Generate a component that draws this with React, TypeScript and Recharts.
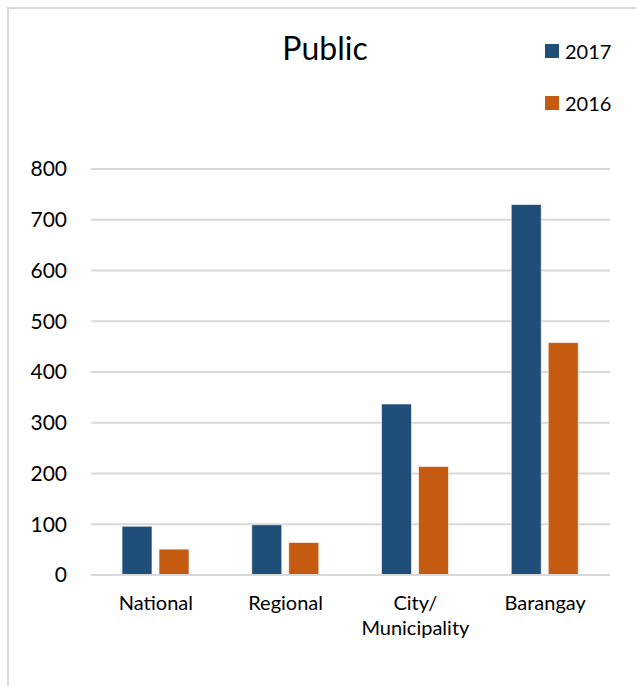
import { BarChart, Bar, XAxis, YAxis, CartesianGrid } from 'recharts';

const categories = ['National', 'Regional', 'City/\nMunicipality', 'Barangay'];
const values2017 = [96, 99, 337, 730];
const values2016 = [51, 64, 214, 458];
const yTicks = [0, 100, 200, 300, 400, 500, 600, 700, 800];

const SERIES = [
  { key: 'y2017', name: '2017', color: '#1F4E79' },
  { key: 'y2016', name: '2016', color: '#C55A11' },
];

const FONT = 'Lato, "Open Sans", sans-serif';

const data = categories.map((name, i) => ({
  name,
  y2017: values2017[i],
  y2016: values2016[i],
}));

const CategoryTick = (props: any) => {
  const { x, y, payload } = props;
  const lines = String(payload.value).split('\n');
  return (
    <text x={x} y={y + 27} textAnchor="middle" fill="#000" fontSize={20} fontFamily={FONT}>
      {lines.map((line, i) => (
        <tspan key={i} x={x} dy={i === 0 ? 0 : 25}>
          {line}
        </tspan>
      ))}
    </text>
  );
};

const LegendBox = () => (
  <div
    style={{
      position: 'absolute',
      left: 545,
      top: 25,
      fontFamily: FONT,
      fontSize: 20,
      color: '#000',
    }}
  >
    {SERIES.map((s) => (
      <div key={s.key} style={{ display: 'flex', alignItems: 'center', height: 52 }}>
        <span style={{ width: 14, height: 14, background: s.color, marginRight: 6 }} />
        {s.name}
      </div>
    ))}
  </div>
);

const App = () => {
  return (
    <div style={{ position: 'absolute', left: 0, top: 0, width: 636, height: 686, background: '#fff', overflow: 'hidden' }}>
      <div
        style={{
          position: 'absolute',
          left: 7,
          top: 7,
          width: 640,
          height: 700,
          border: '2px solid #d9d9d9',
          boxSizing: 'border-box',
        }}
      />
      <div
        style={{
          position: 'absolute',
          left: 225,
          top: 28,
          width: 200,
          textAlign: 'center',
          fontFamily: FONT,
          fontSize: 32,
          color: '#000',
        }}
      >
        Public
      </div>
      <LegendBox />
      <BarChart
        width={636}
        height={686}
        data={data}
        margin={{ top: 169, right: 26, left: 0, bottom: 81 }}
        barGap={7}
        barSize={30}
        style={{ position: 'absolute', left: 0, top: 0 }}
      >
        <CartesianGrid vertical={false} stroke="#d9d9d9" strokeWidth={2} />
        <XAxis
          dataKey="name"
          height={30}
          tick={<CategoryTick />}
          tickLine={false}
          axisLine={{ stroke: '#d9d9d9', strokeWidth: 2 }}
          interval={0}
        />
        <YAxis
          domain={[0, 800]}
          ticks={yTicks}
          width={91}
          tickLine={false}
          axisLine={false}
          tickSize={0}
          tickMargin={24}
          tick={{ fill: '#000', fontSize: 21, fontFamily: FONT }}
        />
        {SERIES.map((s) => (
          <Bar
            key={s.key}
            dataKey={s.key}
            name={s.name}
            fill={s.color}
            stroke="#ffffff"
            strokeOpacity={0.6}
            isAnimationActive={false}
          />
        ))}
      </BarChart>
    </div>
  );
};

export default App;
